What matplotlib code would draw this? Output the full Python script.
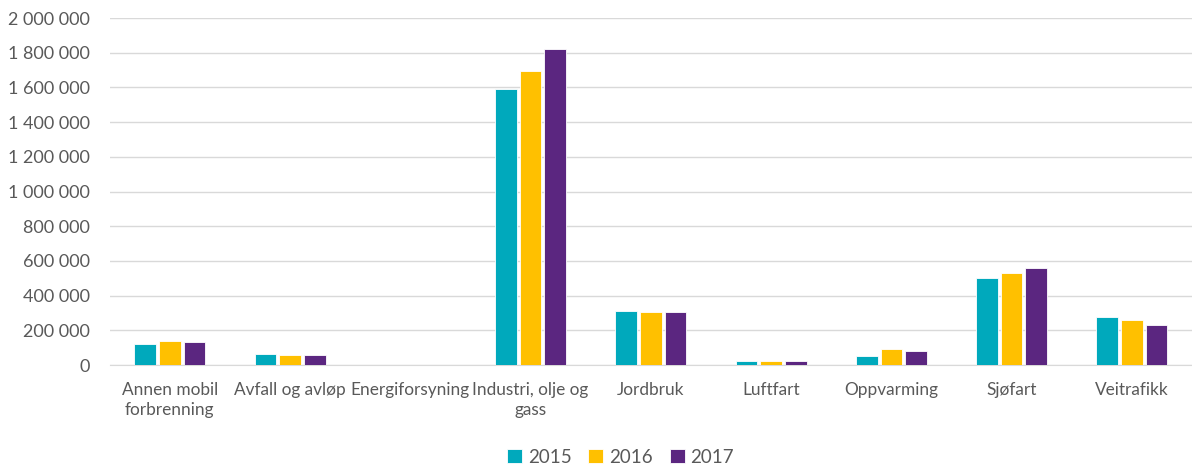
import matplotlib.pyplot as plt
import matplotlib.ticker as ticker
import numpy as np

plt.rcParams['font.family'] = ['Lato', 'DejaVu Sans']

categories = ['Annen mobil\nforbrenning', 'Avfall og avløp', 'Energiforsyning',
              'Industri, olje og\ngass', 'Jordbruk', 'Luftfart', 'Oppvarming',
              'Sjøfart', 'Veitrafikk']
years = ['2015', '2016', '2017']
v2015 = [121000, 63000, 0, 1591000, 313000, 21000, 54000, 502000, 274000]
v2016 = [140000, 55000, 0, 1694000, 307000, 21000, 93000, 530000, 261000]
v2017 = [133000, 58000, 0, 1820000, 307000, 21000, 79000, 559000, 232000]
colors = ['#00A9BC', '#FFC000', '#5B2680']

fig = plt.figure(figsize=(11.92, 4.68), dpi=100)
ax = fig.add_axes([0.092, 0.22, 0.908, 0.7415])

x = np.arange(len(categories))
w = 0.18
for i, vals in enumerate([v2015, v2016, v2017]):
    ax.bar(x + (i - 1) * 0.205, vals, w, color=colors[i], label=years[i],
           edgecolor='white', linewidth=0.6, zorder=3)

ax.set_xlim(-0.5, len(categories) - 0.5)
ax.set_ylim(0, 2000000)
ax.yaxis.set_major_locator(ticker.MultipleLocator(200000))
ax.yaxis.set_major_formatter(ticker.FuncFormatter(
    lambda v, p: f'{int(v):,}'.replace(',', ' ')))
ax.set_xticks(x)
ax.set_xticklabels(categories, linespacing=1.35)
ax.grid(axis='y', color='#D9D9D9', linewidth=1, zorder=0)
for s in ['top', 'right', 'left']:
    ax.spines[s].set_visible(False)
ax.spines['bottom'].set_color('#D9D9D9')
ax.tick_params(axis='both', length=0, labelsize=13, colors='#595959')
ax.tick_params(axis='x', pad=12, labelsize=12.4)
ax.tick_params(axis='y', pad=14)

ax.legend(loc='center', bbox_to_anchor=(0.472, -0.265), ncol=3, frameon=False,
          fontsize=13.5, labelcolor='#595959', handlelength=0.8, handleheight=0.8,
          handletextpad=0.3, columnspacing=0.9)

fig.savefig('out.png', dpi=100)
